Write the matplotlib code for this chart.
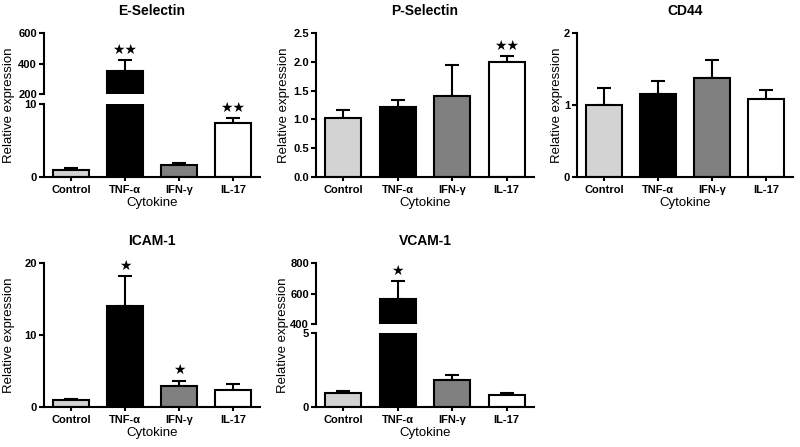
import numpy as np
import matplotlib
matplotlib.use("Agg")
import matplotlib.pyplot as plt

plt.rcParams["font.family"] = ["Liberation Sans", "DejaVu Sans"]

CATS = ["Control", "TNF-α", "IFN-γ", "IL-17"]
COLORS = ["#d3d3d3", "#000000", "#808080", "#ffffff"]

# values (mean, upper SEM)
ESEL = [1.0, 354, 1.6, 7.35]
ESEL_ERR = [0.2, 66, 0.25, 0.7]
ESEL_STARS = ["", "★★", "", "★★"]

PSEL = [1.03, 1.22, 1.40, 1.99]
PSEL_ERR = [0.13, 0.11, 0.54, 0.11]
PSEL_STARS = ["", "", "", "★★"]

CD44 = [1.0, 1.15, 1.38, 1.08]
CD44_ERR = [0.23, 0.19, 0.25, 0.13]
CD44_STARS = ["", "", "", ""]

ICAM = [1.0, 14.0, 2.96, 2.36]
ICAM_ERR = [0.1, 4.2, 0.7, 0.8]
ICAM_STARS = ["", "★", "★", ""]

VCAM = [0.97, 562, 1.8, 0.81]
VCAM_ERR = [0.13, 118, 0.36, 0.16]
VCAM_STARS = ["", "★", "", ""]

W, H = 800, 447
fig = plt.figure(figsize=(8, 4.47), dpi=100)


def rect(x0, x1, y0, y1):
    # pixel box -> figure fraction
    return [x0 / W, 1 - y1 / H, (x1 - x0) / W, (y1 - y0) / H]


LW = 1.5


def style(ax, top_part=False):
    for s in ("top", "right"):
        ax.spines[s].set_visible(False)
    ax.spines["left"].set_linewidth(LW)
    ax.spines["bottom"].set_linewidth(LW)
    ax.tick_params(axis="y", direction="out", length=3.5, width=LW, pad=1.5, labelsize=8)
    ax.tick_params(axis="x", direction="out", length=3, width=LW, pad=2.5, labelsize=8)
    for lab in ax.get_yticklabels():
        lab.set_fontweight("bold")
    ax.set_xlim(-0.5, 3.5)
    if top_part:
        ax.spines["bottom"].set_visible(False)
        ax.set_xticks([])
    else:
        ax.set_xticks(range(4))
        ax.set_xticklabels(CATS, fontweight="bold", fontsize=8)
        ax.set_xlabel("Cytokine", fontsize=9.5, labelpad=2)


def bars(ax, vals, errs, stars):
    x = np.arange(len(vals))
    ax.bar(x, vals, width=0.66, color=COLORS, edgecolor="black", linewidth=LW, zorder=2)
    ax.errorbar(x, vals, yerr=[np.zeros(len(vals)), errs], fmt="none", ecolor="black",
                elinewidth=LW, capsize=5, capthick=LW, zorder=1)
    lo, hi = ax.get_ylim()
    for xi, v, e, s in zip(x, vals, errs, stars):
        if s and lo <= v + e <= hi:
            ax.annotate(s, (xi, v + e), xytext=(0, 2.5), textcoords="offset points",
                        ha="center", va="bottom", fontsize=10, family="DejaVu Sans")


def simple(px, py, title, vals, errs, stars, ylim, yticks, yfmt, lab_x):
    ax = fig.add_axes(rect(px[0], px[1], py[0], py[1]))
    ax.set_ylim(*ylim)
    ax.set_yticks(yticks)
    ax.set_yticklabels([yfmt % t for t in yticks])
    bars(ax, vals, errs, stars)
    style(ax)
    ax.set_title(title, fontsize=10, fontweight="bold", pad=13)
    fig.text(lab_x / W, 1 - (py[0] + py[1]) / 2 / H, "Relative expression", rotation=90,
             ha="center", va="center", fontsize=9.5)
    return ax


def broken(px, py_top, py_bot, title, vals, errs, stars, ylim_top, yt_top, ylim_bot, yt_bot, lab_x):
    axt = fig.add_axes(rect(px[0], px[1], py_top[0], py_top[1]))
    axb = fig.add_axes(rect(px[0], px[1], py_bot[0], py_bot[1]))
    axt.set_ylim(*ylim_top); axt.set_yticks(yt_top)
    axb.set_ylim(*ylim_bot); axb.set_yticks(yt_bot)
    bars(axt, vals, errs, stars)
    bars(axb, vals, errs, stars)
    style(axt, top_part=True)
    style(axb)
    axt.set_title(title, fontsize=10, fontweight="bold", pad=13)
    fig.text(lab_x / W, 1 - (py_top[0] + py_bot[1]) / 2 / H, "Relative expression", rotation=90,
             ha="center", va="center", fontsize=9.5)


broken((44, 260), (33, 94), (104, 177), "E-Selectin", ESEL, ESEL_ERR, ESEL_STARS,
       (200, 600), [200, 400, 600], (0, 10), [0, 10], 9)
simple((316, 534), (33, 177), "P-Selectin", PSEL, PSEL_ERR, PSEL_STARS,
       (0, 2.5), [0, 0.5, 1.0, 1.5, 2.0, 2.5], "%.1f", 284)
simple((577, 793), (33, 177), "CD44", CD44, CD44_ERR, CD44_STARS,
       (0, 2), [0, 1, 2], "%d", 557)
simple((44, 260), (263, 407), "ICAM-1", ICAM, ICAM_ERR, ICAM_STARS,
       (0, 20), [0, 10, 20], "%d", 9)
broken((316, 534), (263, 324), (333, 407), "VCAM-1", VCAM, VCAM_ERR, VCAM_STARS,
       (400, 800), [400, 600, 800], (0, 5), [0, 5], 283)

fig.savefig("out.png", dpi=100)
